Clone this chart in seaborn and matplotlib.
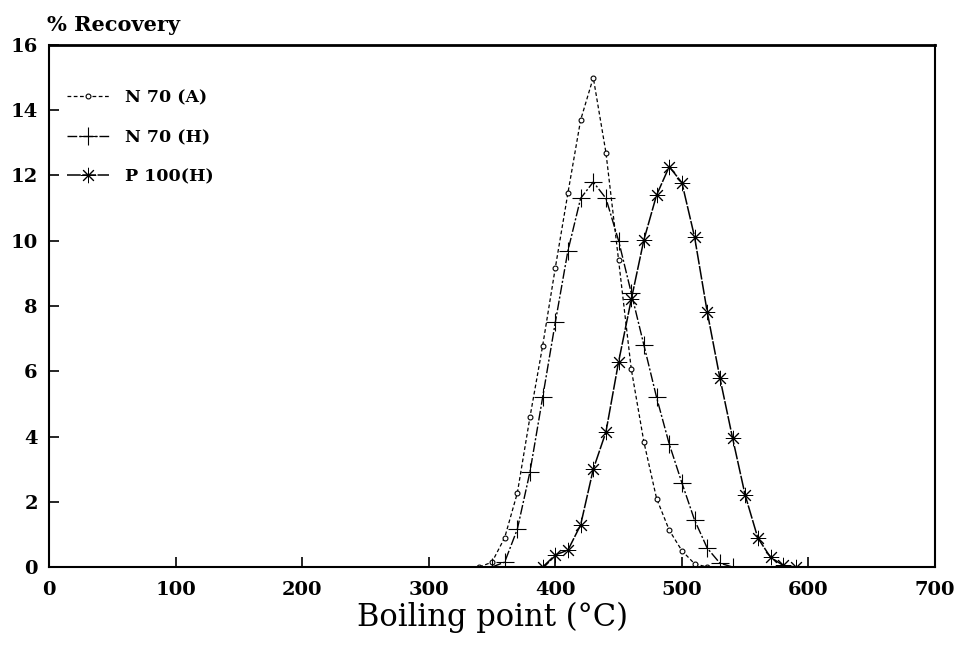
import matplotlib
matplotlib.use("Agg")
import matplotlib.pyplot as plt
import seaborn as sns
import pandas as pd

# --- data ---
bp_n70a = [340, 350, 360, 370, 380, 390, 400, 410, 420, 430, 440, 450, 460, 470, 480, 490, 500, 510, 520]
rec_n70a = [0.0, 0.15, 0.9, 2.27, 4.6, 6.78, 9.17, 11.47, 13.7, 15.0, 12.7, 9.4, 6.07, 3.83, 2.1, 1.13, 0.5, 0.1, 0.0]

bp_n70h = [350, 360, 370, 380, 390, 400, 410, 420, 430, 440, 450, 460, 470, 480, 490, 500, 510, 520, 530, 540]
rec_n70h = [0.0, 0.15, 1.16, 2.92, 5.2, 7.5, 9.7, 11.3, 11.8, 11.3, 10.0, 8.4, 6.8, 5.2, 3.77, 2.58, 1.44, 0.58, 0.12, 0.0]

bp_p100h = [390, 400, 410, 420, 430, 440, 450, 460, 470, 480, 490, 500, 510, 520, 530, 540, 550, 560, 570, 580, 590]
rec_p100h = [0.0, 0.37, 0.52, 1.29, 3.0, 4.14, 6.29, 8.2, 10.03, 11.4, 12.27, 11.78, 10.12, 7.82, 5.8, 3.96, 2.2, 0.89, 0.3, 0.05, 0.0]

labels = ["N 70 (A)", "N 70 (H)", "P 100(H)"]
x_ticks = [0, 100, 200, 300, 400, 500, 600, 700]
y_ticks = [0, 2, 4, 6, 8, 10, 12, 14, 16]

sns.set_style("white")
plt.rcParams["font.family"] = ["DejaVu Serif"]
plt.rcParams["text.color"] = "black"
plt.rcParams["xtick.color"] = "black"
plt.rcParams["ytick.color"] = "black"
plt.rcParams["axes.labelcolor"] = "black"

fig = plt.figure(figsize=(9.62, 6.49), dpi=100)
ax = fig.add_axes([0.0509, 0.1263, 0.9211, 0.8044])

styles = [
    dict(marker="o", markersize=3.5, markerfacecolor="white", markeredgewidth=0.8,
         linestyle=(0, (3, 2)), linewidth=0.9),
    dict(marker="+", markersize=13, markeredgewidth=0.8,
         linestyle=(0, (7, 1.5, 1.5, 1.5)), linewidth=1.0),
    dict(marker=(8, 2, 0), markersize=11, markeredgewidth=0.7,
         linestyle=(0, (9, 1)), linewidth=1.1),
]
series = [(bp_n70a, rec_n70a), (bp_n70h, rec_n70h), (bp_p100h, rec_p100h)]
for (xs, ys), lab, st in zip(series, labels, styles):
    df = pd.DataFrame({"bp": xs, "rec": ys})
    sns.lineplot(data=df, x="bp", y="rec", ax=ax, color="black", label=lab,
                 estimator=None, sort=False, markeredgecolor="black", **st)

ax.set_xlim(0, 700)
ax.set_ylim(0, 16)
ax.set_xticks(x_ticks)
ax.set_yticks(y_ticks)
ax.set_xticklabels([str(t) for t in x_ticks], fontsize=14, fontweight="bold")
ax.set_yticklabels([str(t) for t in y_ticks], fontsize=14, fontweight="bold")
ax.tick_params(axis="both", direction="in", length=7, width=1.2, color="black",
               bottom=True, left=True, top=False, right=False)
ax.tick_params(axis="x", pad=10)
ax.tick_params(axis="y", pad=8)
for s in ax.spines.values():
    s.set_color("black")
    s.set_linewidth(1.5)
ax.spines["top"].set_linewidth(2)

ax.set_xlabel("Boiling point (°C)", fontsize=22, labelpad=2)
ax.set_ylabel("")
fig.text(0.049, 0.962, "% Recovery", fontsize=15, fontweight="bold", ha="left", va="center")

leg = ax.legend(loc="upper left", frameon=False, handlelength=2.4, handletextpad=0.9,
                labelspacing=1.3, bbox_to_anchor=(0.003, 0.945),
                prop={"family": "DejaVu Serif", "weight": "bold", "size": 12.5})

fig.savefig("out.png", dpi=100)
